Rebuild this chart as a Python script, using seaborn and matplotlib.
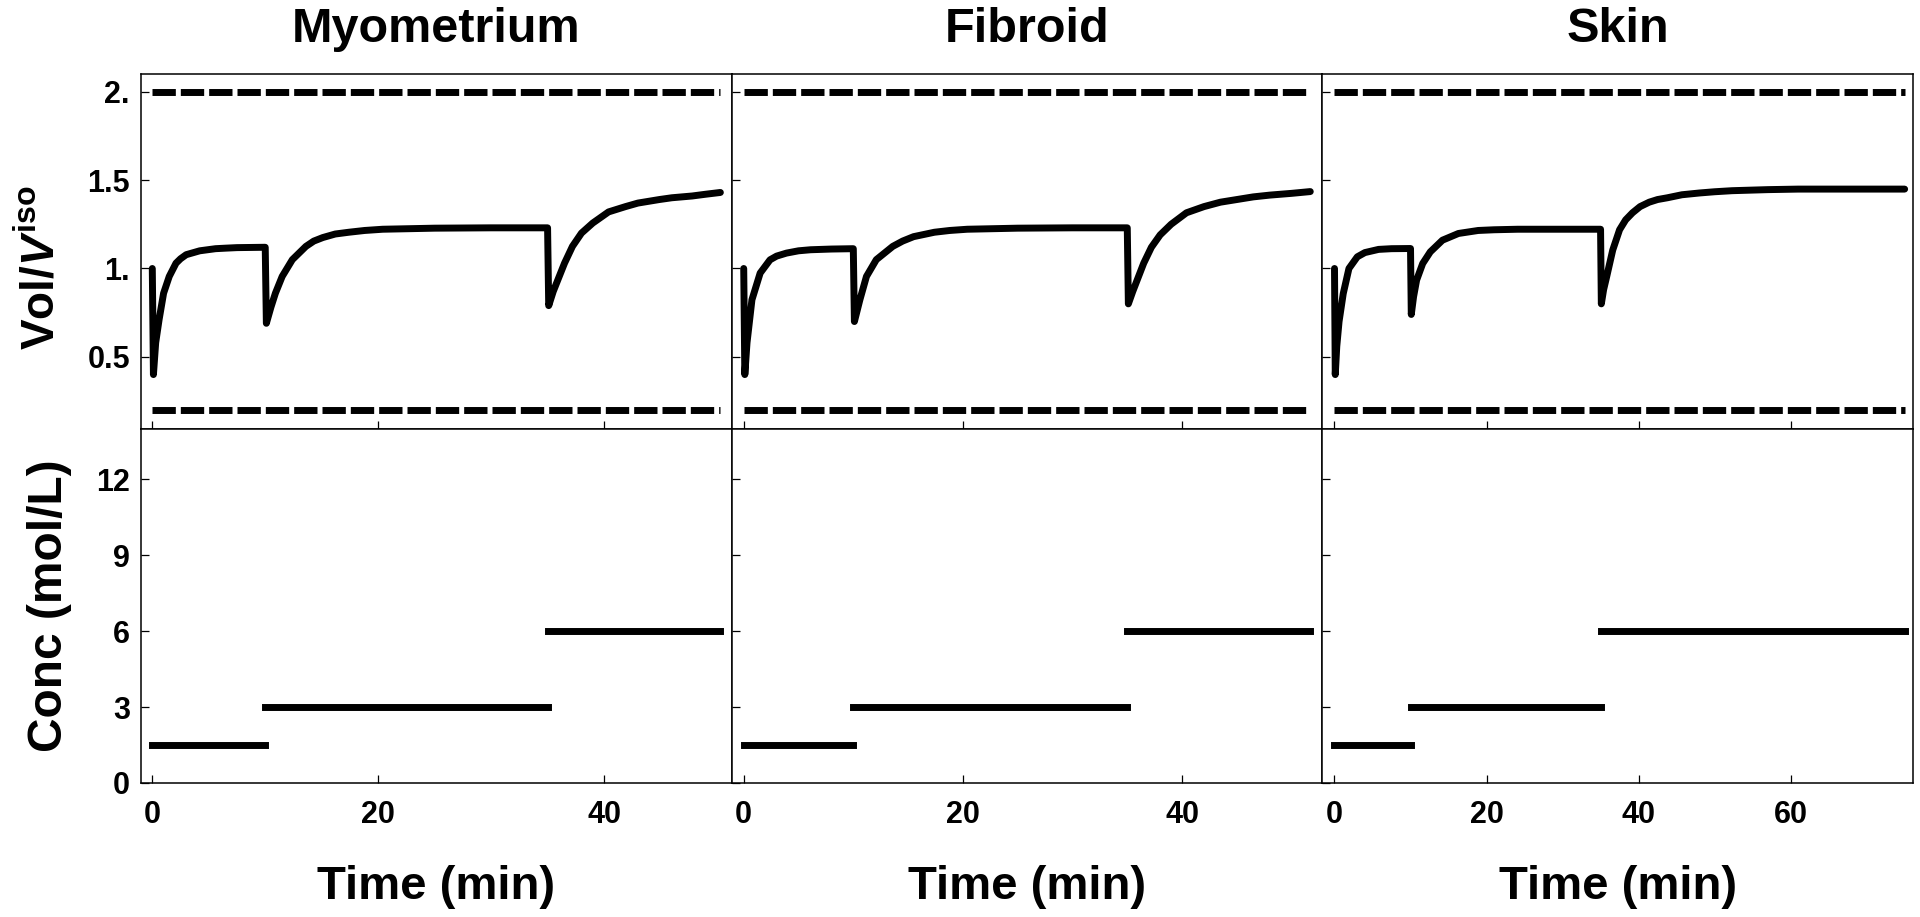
import matplotlib
matplotlib.use("Agg")
import matplotlib.pyplot as plt
import numpy as np
import pandas as pd
import seaborn as sns

# panels
tissues = ["Myometrium", "Fibroid", "Skin"]

# Vol/Viso traces (time in min)
myo_t = [0, 0.1, 0.3, 0.6, 1.0, 1.5, 2.1, 2.5, 3.0, 4.2, 5.6, 6.5, 7.5, 10.0,
         10.1, 10.5, 10.9, 11.5, 12.4, 13.6, 14.3, 15.1, 16.2, 17.4, 18.8, 20.4,
         25.0, 30.0, 35.0, 35.1, 35.5, 36.0, 36.5, 37.2, 38.0, 39.0, 40.4, 41.9,
         43.0, 44.9, 46.0, 47.8, 49.0, 50.3]
myo_v = [1.0, 0.40, 0.58, 0.71, 0.86, 0.955, 1.03, 1.055, 1.078, 1.10, 1.112,
         1.115, 1.118, 1.12, 0.69, 0.78, 0.86, 0.955, 1.05, 1.125, 1.155, 1.175,
         1.195, 1.205, 1.215, 1.222, 1.228, 1.23, 1.23, 0.79, 0.87, 0.95, 1.03,
         1.125, 1.20, 1.257, 1.32, 1.35, 1.37, 1.39, 1.40, 1.41, 1.42, 1.43]

fib_t = [0, 0.1, 0.3, 0.75, 1.5, 2.4, 3.0, 3.9, 5.0, 6.1, 8.0, 10.0, 10.1, 10.6,
         11.2, 12.1, 13.6, 14.5, 15.5, 17.4, 18.8, 20.4, 25.0, 30.0, 35.0, 35.1,
         35.5, 36.0, 36.5, 37.2, 38.0, 39.0, 40.4, 42.0, 43.5, 45.0, 46.5, 48.0,
         50.0, 51.7]
fib_v = [1.0, 0.40, 0.58, 0.823, 0.974, 1.049, 1.07, 1.087, 1.10, 1.106, 1.11,
         1.112, 0.70, 0.823, 0.955, 1.05, 1.125, 1.155, 1.18, 1.205, 1.215,
         1.222, 1.228, 1.23, 1.23, 0.80, 0.87, 0.95, 1.03, 1.12, 1.19, 1.25,
         1.315, 1.35, 1.375, 1.39, 1.405, 1.415, 1.425, 1.435]

skin_t = [0, 0.1, 0.3, 0.6, 1.15, 1.9, 3.0, 4.0, 5.8, 7.5, 10.0, 10.1, 10.4,
          10.8, 11.6, 12.6, 14.2, 16.3, 18.9, 21.0, 24.1, 30.0, 35.0, 35.1, 35.4,
          35.8, 36.6, 37.5, 38.3, 39.2, 40.2, 41.4, 42.5, 43.8, 45.7, 48.0, 50.0,
          52.3, 57.0, 61.0, 68.0, 75.0]
skin_v = [1.0, 0.40, 0.56, 0.70, 0.858, 1.0, 1.066, 1.09, 1.108, 1.112, 1.113,
          0.74, 0.84, 0.934, 1.028, 1.094, 1.16, 1.198, 1.215, 1.219, 1.222,
          1.222, 1.222, 0.80, 0.88, 0.953, 1.104, 1.219, 1.275, 1.315, 1.35,
          1.375, 1.39, 1.40, 1.417, 1.427, 1.434, 1.44, 1.446, 1.449, 1.449,
          1.449]

vol_t = [myo_t, fib_t, skin_t]
vol_v = [myo_v, fib_v, skin_v]

# osmotic tolerance limits (dashed)
vol_limits = [0.2, 2.0]

# CPA concentration steps (mol/L): start time, level; last step runs to end of trace
step_starts = [0, 10, 35]
step_levels = [1.5, 3, 6]

# axis setup
x_lims = [(-1.0, 51.3), (-1.1, 52.8), (-1.6, 76.1)]
x_ticks = [[0, 20, 40], [0, 20, 40], [0, 20, 40, 60]]
vol_ticks = [0.5, 1.0, 1.5, 2.0]
vol_ticklabels = ["0.5", "1.", "1.5", "2."]
conc_ticks = [0, 3, 6, 9, 12]

sns.set_style("ticks")
plt.rcParams["font.family"] = ["Liberation Sans", "DejaVu Sans"]
plt.rcParams["font.weight"] = "bold"
plt.rcParams["text.color"] = "black"
plt.rcParams["axes.labelcolor"] = "black"
plt.rcParams["mathtext.fontset"] = "custom"
plt.rcParams["mathtext.rm"] = "Liberation Sans:bold"
plt.rcParams["mathtext.it"] = "Liberation Sans:italic:bold"
plt.rcParams["mathtext.bf"] = "Liberation Sans:bold"

fig, axes = plt.subplots(2, 3, figsize=(19.2, 9.17), dpi=100)
fig.subplots_adjust(left=141 / 1920, right=1913 / 1920, top=1 - 74 / 917,
                    bottom=1 - 783 / 917, wspace=0, hspace=0)

lw = 5
for j in range(3):
    t_end = vol_t[j][-1]

    # --- volume panel
    ax = axes[0, j]
    ax.hlines(vol_limits, 0, t_end, colors="black", lw=lw,
              linestyles=[(0, (3.36, 0.72))])
    df = pd.DataFrame({"t": vol_t[j], "v": vol_v[j]})
    sns.lineplot(data=df, x="t", y="v", ax=ax, color="black", lw=lw,
                 estimator=None, sort=False)
    ax.set_ylim(0.095, 2.1)
    ax.set_yticks(vol_ticks)
    ax.set_yticklabels(vol_ticklabels if j == 0 else [])
    ax.set_title(tissues[j], fontsize=35, fontweight="bold", pad=23,
                 color="black")

    # --- concentration panel
    ax2 = axes[1, j]
    stops = step_starts[1:] + [t_end]
    steps = pd.DataFrame({
        "t": np.ravel([[a, b] for a, b in zip(step_starts, stops)]),
        "c": np.repeat(step_levels, 2),
        "seg": np.repeat(np.arange(len(step_levels)), 2),
    })
    sns.lineplot(data=steps, x="t", y="c", units="seg", estimator=None,
                 ax=ax2, color="black", lw=lw, solid_capstyle="projecting")
    ax2.set_ylim(0, 14)
    ax2.set_yticks(conc_ticks)
    if j > 0:
        ax2.set_yticklabels([])

    for a in (ax, ax2):
        a.set_xlim(*x_lims[j])
        a.set_xticks(x_ticks[j])
        a.set_xlabel("")
        a.set_ylabel("")
        a.tick_params(direction="in", length=5.5, width=0.9, top=False,
                      right=False, labelsize=22, colors="black")
        a.tick_params(axis="y", pad=8)
        a.tick_params(axis="x", pad=12)
        for s in a.spines.values():
            s.set_visible(True)
            s.set_linewidth(1.1)
            s.set_color("black")
    ax.set_xticklabels([])

    pos = ax2.get_position()
    fig.text((pos.x0 + pos.x1) / 2, 1 - 899 / 917, "Time (min)", ha="center",
             va="baseline", fontsize=34, fontweight="bold")

# y labels, baselines placed like the original
p_bot = axes[1, 0].get_position()
fig.text(55 / 1920, 1 - 268 / 917, r"$\mathrm{Vol/}\mathit{V}^{\mathrm{iso}}$",
         rotation=90, rotation_mode="anchor", ha="center", va="baseline",
         fontsize=33)
fig.text(62 / 1920, (p_bot.y0 + p_bot.y1) / 2, "Conc (mol/L)", rotation=90,
         rotation_mode="anchor", ha="center", va="baseline", fontsize=34.5,
         fontweight="bold")

fig.savefig("out.png", dpi=100, facecolor="white")
